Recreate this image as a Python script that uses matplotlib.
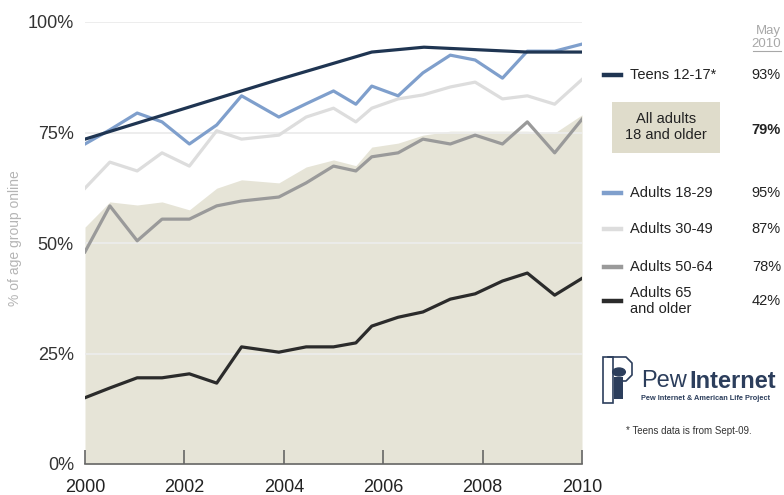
import matplotlib
matplotlib.use("Agg")
import matplotlib.pyplot as plt
from matplotlib.lines import Line2D
from matplotlib.patches import Rectangle, Circle
import numpy as np

plt.rcParams['font.family'] = ['Liberation Sans', 'DejaVu Sans']

# ---------------- data ----------------
survey_dates = [2000.0, 2000.5, 2001.05, 2001.55, 2002.1, 2002.65, 2003.15, 2003.9,
                2004.45, 2005.0, 2005.45, 2005.77, 2006.3, 2006.8, 2007.35, 2007.85,
                2008.4, 2008.9, 2009.45, 2010.0]
all_adults = [53.6, 59.3, 58.6, 59.3, 57.5, 62.4, 64.3, 63.6, 67.2, 68.8, 67.5, 71.7,
              72.6, 74.4, 75.3, 75.3, 75.3, 75.3, 74.9, 79]
adults_18_29 = [72.4, 75.6, 79.4, 77.4, 72.4, 76.7, 83.3, 78.5, 81.5, 84.4, 81.4, 85.5,
                83.3, 88.5, 92.5, 91.4, 87.3, 93.4, 93.4, 95]
adults_30_49 = [62.4, 68.3, 66.3, 70.4, 67.4, 75.4, 73.5, 74.4, 78.5, 80.5, 77.4, 80.5,
                82.6, 83.5, 85.3, 86.4, 82.6, 83.3, 81.4, 87]
adults_50_64 = [48, 58.4, 50.5, 55.4, 55.4, 58.4, 59.5, 60.4, 63.6, 67.4, 66.3, 69.5,
                70.4, 73.5, 72.4, 74.4, 72.4, 77.4, 70.4, 78]
adults_65_plus = [15, 17.2, 19.5, 19.5, 20.4, 18.3, 26.5, 25.3, 26.5, 26.5, 27.4, 31.2,
                  33.2, 34.4, 37.3, 38.5, 41.4, 43.2, 38.2, 42]
teen_dates = [2000.0, 2003.9, 2005.77, 2006.82, 2008.89, 2010.0]
teens_12_17 = [73.5, 87, 93.2, 94.3, 93.2, 93.2]

x_ticks = [2000, 2002, 2004, 2006, 2008, 2010]
y_ticks = [0, 25, 50, 75, 100]
y_tick_labels = ['0%', '25%', '50%', '75%', '100%']

series_labels = ['Teens 12-17*', 'Adults 18-29', 'Adults 30-49', 'Adults 50-64', 'Adults 65\nand older']

# ---------------- styles ----------------
c_area = '#e6e4d7'
c_box = '#dfdccb'
c_teen = '#1f3552'
c_1829 = '#7f9fcc'
c_3049 = '#dddddd'
c_5064 = '#9a9a9a'
c_65 = '#2b2b2b'
W, H = 784, 495

fig = plt.figure(figsize=(W / 100, H / 100), dpi=100)
fig.patch.set_facecolor('white')
ax = fig.add_axes([85 / W, 1 - 464 / H, (582 - 85) / W, (464 - 22) / H])
ax.set_xlim(2000, 2010)
ax.set_ylim(0, 100)

ax.fill_between(survey_dates, 0, all_adults, color=c_area, lw=0, zorder=1)
for yv in [25, 50, 75, 100]:
    ax.axhline(yv, color='#ececec', lw=1.3, zorder=2)

lw = 2.3
ax.plot(survey_dates, adults_30_49, color=c_3049, lw=lw, zorder=3)
ax.plot(survey_dates, adults_50_64, color=c_5064, lw=lw, zorder=3)
ax.plot(survey_dates, adults_65_plus, color=c_65, lw=lw, zorder=3)
ax.plot(survey_dates, adults_18_29, color=c_1829, lw=lw, zorder=4)
ax.plot(teen_dates, teens_12_17, color=c_teen, lw=lw, zorder=5)

for s in ['top', 'right', 'left']:
    ax.spines[s].set_visible(False)
ax.spines['bottom'].set_color('#666666')
ax.spines['bottom'].set_linewidth(1.2)
ax.spines['bottom'].set_zorder(6)

ax.set_xticks(x_ticks)
ax.set_xticklabels([str(t) for t in x_ticks], fontsize=13, color='#222222')
ax.tick_params(axis='x', direction='in', length=10, width=1.2, color='#666666', pad=11)
ax.set_yticks(y_ticks)
ax.set_yticklabels(y_tick_labels, fontsize=13, color='#333333')
ax.tick_params(axis='y', length=0, pad=8)
ax.set_ylabel('% of age group online', fontsize=10, color='#b5b5b5')
ax.yaxis.set_label_coords(-0.126, 0.51)


def ftxt(x, y, s, **kw):
    fig.text(x / W, 1 - y / H, s, **kw)


def swatch(y, color):
    fig.add_artist(Line2D([604 / W, 621 / W], [1 - y / H, 1 - y / H], color=color, lw=3.2,
                          transform=fig.transFigure))


# header
ftxt(781, 31, 'May', ha='right', va='center', fontsize=9.5, color='#a8a8a8')
ftxt(781, 44, '2010', ha='right', va='center', fontsize=9.5, color='#a8a8a8')
fig.add_artist(Line2D([753 / W, 781 / W], [1 - 51 / H, 1 - 51 / H], color='#a8a8a8', lw=0.8,
                      transform=fig.transFigure))

legend_rows = [
    (75, c_teen, series_labels[0], teens_12_17[-1]),
    (193, c_1829, series_labels[1], adults_18_29[-1]),
    (229, c_3049, series_labels[2], adults_30_49[-1]),
    (267, c_5064, series_labels[3], adults_50_64[-1]),
    (301, c_65, series_labels[4], adults_65_plus[-1]),
]
for y, c, lab, val in legend_rows:
    swatch(y, c)
    ftxt(630, y, lab, ha='left', va='center', fontsize=10.5, color='#222222', linespacing=1.15)
    ftxt(781, y, f'{round(val)}%', ha='right', va='center', fontsize=10.5, color='#222222')

# All adults box
fig.add_artist(Rectangle((612 / W, 1 - 153 / H), 108 / W, 51 / H, color=c_box,
                         transform=fig.transFigure, lw=0))
ftxt(666, 127, 'All adults\n18 and older', ha='center', va='center', fontsize=10.5,
     color='#222222', linespacing=1.15)
ftxt(781, 130, f'{round(all_adults[-1])}%', ha='right', va='center', fontsize=10.5,
     color='#222222', fontweight='bold')

# Pew logo
navy = '#2c3e5c'
fig.add_artist(Rectangle((603 / W, 1 - 403 / H), 10 / W, 46 / H, fill=False, ec=navy, lw=1.2,
                         transform=fig.transFigure))
fig.add_artist(Line2D([608 / W, 626 / W, 632 / W, 632 / W, 626 / W, 620 / W],
                      [1 - 357 / H, 1 - 357 / H, 1 - 363 / H, 1 - 375 / H, 1 - 381 / H, 1 - 381 / H],
                      color=navy, lw=1.2, transform=fig.transFigure))
fig.add_artist(Circle((619 / W, 1 - 372 / H), 4 / H, color=navy, transform=fig.transFigure))
fig.add_artist(Rectangle((614 / W, 1 - 399 / H), 9 / W, 22 / H, color=navy,
                         transform=fig.transFigure, lw=0))
ftxt(641, 381, 'Pew', ha='left', va='center', fontsize=17, color=navy)
ftxt(689, 381, 'Internet', ha='left', va='center', fontsize=17, color=navy, fontweight='bold')
ftxt(641, 398, 'Pew Internet & American Life Project', ha='left', va='center', fontsize=5.3,
     color=navy, fontweight='bold')

ftxt(626, 431, '* Teens data is from Sept-09.', ha='left', va='center', fontsize=7,
     color='#333333')

fig.savefig('out.png', dpi=100)
